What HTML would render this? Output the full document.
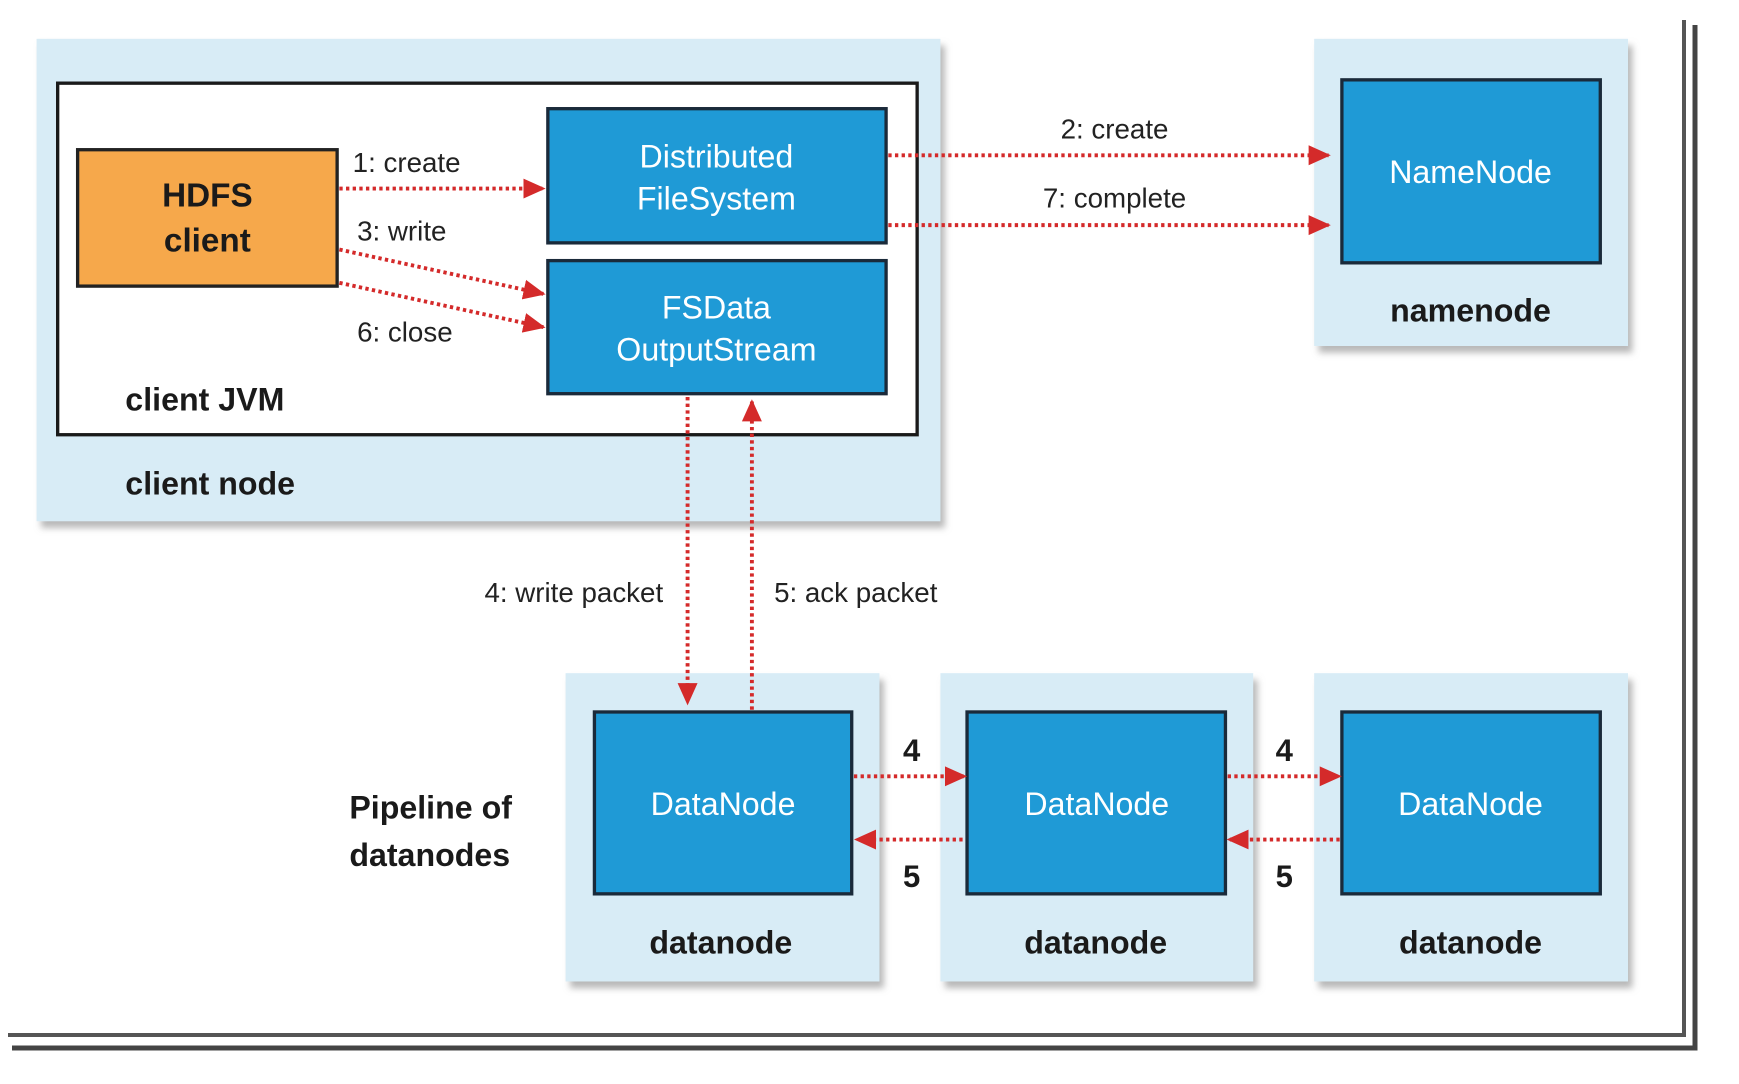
<!DOCTYPE html>
<html><head><style>html,body{margin:0;padding:0;background:#fff;}svg{display:block}</style></head>
<body>
<svg width="1739" height="1084" viewBox="0 0 1739 1084" xmlns="http://www.w3.org/2000/svg">
<defs>
<marker id="ah" markerWidth="20" markerHeight="20" refX="18" refY="10" orient="auto" markerUnits="userSpaceOnUse" viewBox="0 0 20 20"><path d="M0,1 L20,10 L0,19 z" fill="#d42a2a"/></marker>
<filter id="sh" x="-5%" y="-5%" width="115%" height="115%"><feDropShadow dx="4" dy="6" stdDeviation="3" flood-color="#888" flood-opacity="0.6"/></filter>
</defs>
<rect width="1739" height="1084" fill="#fff"/>
<!-- frame -->
<path d="M1684,20 V1035 H8" fill="none" stroke="#555" stroke-width="4"/>
<path d="M1695,25 V1048 H12" fill="none" stroke="#444" stroke-width="5"/>
<g transform="scale(1.109,1.109)" font-family="'Liberation Sans Narrow','Liberation Sans',sans-serif">
<!-- client node -->
<rect x="33" y="35" width="815" height="435" fill="#d8ecf6" filter="url(#sh)"/>
<rect x="52" y="75" width="775" height="317" fill="#fff" stroke="#1a1a1a" stroke-width="3"/>
<rect x="70" y="135" width="234" height="123" fill="#f6a84b" stroke="#222" stroke-width="3"/>
<text x="187" y="186" font-size="30" font-weight="bold" text-anchor="middle" fill="#1a1a1a">HDFS</text>
<text x="187" y="227" font-size="30" font-weight="bold" text-anchor="middle" fill="#1a1a1a">client</text>
<rect x="494" y="98" width="305" height="121" fill="#1f9ad6" stroke="#1a2a3a" stroke-width="3"/>
<text x="646" y="151" font-size="29" text-anchor="middle" fill="#fff">Distributed</text>
<text x="646" y="189" font-size="29" text-anchor="middle" fill="#fff">FileSystem</text>
<rect x="494" y="235" width="305" height="120" fill="#1f9ad6" stroke="#1a2a3a" stroke-width="3"/>
<text x="646" y="287" font-size="29" text-anchor="middle" fill="#fff">FSData</text>
<text x="646" y="325" font-size="29" text-anchor="middle" fill="#fff">OutputStream</text>
<text x="113" y="370" font-size="29" font-weight="bold" fill="#1a1a1a">client JVM</text>
<text x="113" y="446" font-size="29" font-weight="bold" fill="#1a1a1a">client node</text>
<!-- namenode -->
<rect x="1185" y="35" width="283" height="277" fill="#d8ecf6" filter="url(#sh)"/>
<rect x="1210" y="72" width="233" height="165" fill="#1f9ad6" stroke="#1a2a3a" stroke-width="3"/>
<text x="1326" y="165" font-size="29" text-anchor="middle" fill="#fff">NameNode</text>
<text x="1326" y="290" font-size="29" font-weight="bold" text-anchor="middle" fill="#1a1a1a">namenode</text>
<!-- datanodes -->
<g>
<rect x="510" y="607" width="283" height="278" fill="#d8ecf6" filter="url(#sh)"/>
<rect x="536" y="642" width="232" height="164" fill="#1f9ad6" stroke="#1a2a3a" stroke-width="3"/>
<text x="652" y="735" font-size="29" text-anchor="middle" fill="#fff">DataNode</text>
<text x="650" y="860" font-size="29" font-weight="bold" text-anchor="middle" fill="#1a1a1a">datanode</text>
<rect x="848" y="607" width="282" height="278" fill="#d8ecf6" filter="url(#sh)"/>
<rect x="872" y="642" width="233" height="164" fill="#1f9ad6" stroke="#1a2a3a" stroke-width="3"/>
<text x="989" y="735" font-size="29" text-anchor="middle" fill="#fff">DataNode</text>
<text x="988" y="860" font-size="29" font-weight="bold" text-anchor="middle" fill="#1a1a1a">datanode</text>
<rect x="1185" y="607" width="283" height="278" fill="#d8ecf6" filter="url(#sh)"/>
<rect x="1210" y="642" width="233" height="164" fill="#1f9ad6" stroke="#1a2a3a" stroke-width="3"/>
<text x="1326" y="735" font-size="29" text-anchor="middle" fill="#fff">DataNode</text>
<text x="1326" y="860" font-size="29" font-weight="bold" text-anchor="middle" fill="#1a1a1a">datanode</text>
</g>
<text x="315" y="738" font-size="29" font-weight="bold" fill="#1a1a1a">Pipeline of</text>
<text x="315" y="781" font-size="29" font-weight="bold" fill="#1a1a1a">datanodes</text>
<!-- arrows -->
<g stroke="#d42a2a" stroke-width="3.5" stroke-dasharray="3,3" fill="none" marker-end="url(#ah)">
<line x1="306" y1="170" x2="490" y2="170"/>
<line x1="306" y1="225" x2="490" y2="265"/>
<line x1="306" y1="255" x2="490" y2="295"/>
<line x1="801" y1="140" x2="1198" y2="140"/>
<line x1="801" y1="203" x2="1198" y2="203"/>
<line x1="620" y1="358" x2="620" y2="634"/>
<line x1="678" y1="640" x2="678" y2="362"/>
<line x1="770" y1="700" x2="870" y2="700"/>
<line x1="868" y1="757" x2="772" y2="757"/>
<line x1="1107" y1="700" x2="1208" y2="700"/>
<line x1="1208" y1="757" x2="1108" y2="757"/>
</g>
<g font-size="25" fill="#222">
<text x="318" y="155">1: create</text>
<text x="322" y="217">3: write</text>
<text x="322" y="308">6: close</text>
<text x="1005" y="125" text-anchor="middle">2: create</text>
<text x="1005" y="187" text-anchor="middle">7: complete</text>
<text x="598" y="543" text-anchor="end">4: write packet</text>
<text x="698" y="543">5: ack packet</text>
</g>
<g font-size="28" font-weight="bold" fill="#1a1a1a" text-anchor="middle">
<text x="822" y="686">4</text><text x="822" y="800">5</text>
<text x="1158" y="686">4</text><text x="1158" y="800">5</text>
</g>
</g>
</svg>
</body></html>
